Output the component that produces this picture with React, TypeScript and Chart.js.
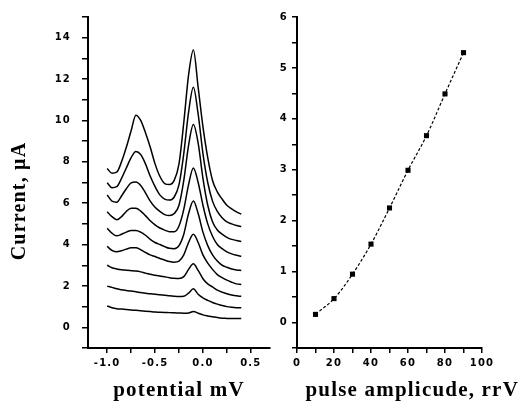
import React, { useEffect, useRef } from 'react';
import { Chart, registerables } from 'chart.js';

Chart.register(...registerables);

// ---- Left panel: voltammograms ----
const potentials = [
  -1.0, -0.95, -0.9, -0.85, -0.8, -0.75, -0.7, -0.65, -0.6, -0.55, -0.5, -0.45, -0.4, -0.35, -0.3,
  -0.25, -0.2, -0.15, -0.1, -0.05, 0.0, 0.05, 0.1, 0.15, 0.2, 0.25, 0.3, 0.35, 0.4,
];

const curve10mV = [1.03, 0.95, 0.9, 0.88, 0.86, 0.84, 0.82, 0.8, 0.78, 0.76, 0.74, 0.73, 0.72, 0.71, 0.7, 0.69, 0.68, 0.69, 0.77, 0.68, 0.6, 0.55, 0.51, 0.47, 0.44, 0.43, 0.42, 0.42, 0.42];
const curve20mV = [1.99, 1.93, 1.86, 1.82, 1.78, 1.75, 1.72, 1.68, 1.65, 1.62, 1.6, 1.57, 1.55, 1.52, 1.5, 1.49, 1.5, 1.65, 1.86, 1.6, 1.42, 1.3, 1.2, 1.12, 1.05, 1.0, 0.97, 0.95, 0.94];
const curve30mV = [3.0, 2.88, 2.82, 2.78, 2.76, 2.74, 2.72, 2.68, 2.62, 2.56, 2.52, 2.48, 2.44, 2.4, 2.37, 2.36, 2.45, 2.8, 3.07, 2.75, 2.35, 2.1, 1.95, 1.8, 1.7, 1.62, 1.56, 1.52, 1.5];
const curve40mV = [3.91, 3.72, 3.65, 3.7, 3.78, 3.84, 3.84, 3.75, 3.62, 3.5, 3.42, 3.33, 3.25, 3.18, 3.15, 3.2, 3.5, 4.1, 4.5, 4.1, 3.5, 3.1, 2.8, 2.55, 2.4, 2.28, 2.18, 2.1, 2.07];
const curve50mV = [4.79, 4.55, 4.42, 4.5, 4.6, 4.68, 4.68, 4.6, 4.45, 4.25, 4.1, 4.0, 3.9, 3.82, 3.8, 3.95, 4.5, 5.5, 6.1, 5.5, 4.6, 3.95, 3.5, 3.2, 3.0, 2.9, 2.82, 2.77, 2.75];
const curve60mV = [5.59, 5.35, 5.2, 5.35, 5.6, 5.76, 5.76, 5.62, 5.4, 5.15, 4.95, 4.8, 4.7, 4.62, 4.62, 4.9, 5.7, 6.9, 7.7, 7.0, 5.9, 5.0, 4.4, 4.0, 3.8, 3.65, 3.55, 3.48, 3.43];
const curve70mV = [6.4, 6.1, 6.05, 6.35, 6.7, 6.98, 7.02, 6.85, 6.5, 6.1, 5.8, 5.6, 5.45, 5.4, 5.5, 5.9, 7.1, 8.8, 9.8, 8.9, 7.2, 5.9, 5.1, 4.7, 4.5, 4.35, 4.25, 4.2, 4.15];
const curve80mV = [6.99, 6.75, 6.8, 7.2, 7.7, 8.2, 8.5, 8.35, 7.9, 7.3, 6.8, 6.4, 6.2, 6.15, 6.3, 6.9, 8.4, 10.4, 11.6, 10.3, 8.4, 7.0, 6.1, 5.6, 5.3, 5.1, 5.0, 4.92, 4.87];
const curve90mV = [7.68, 7.45, 7.5, 8.0, 8.7, 9.5, 10.25, 10.0, 9.4, 8.7, 7.9, 7.3, 6.95, 6.9, 7.1, 7.9, 9.9, 12.2, 13.4, 11.6, 9.7, 8.2, 7.1, 6.55, 6.2, 5.9, 5.72, 5.58, 5.47];

const leftCurves = [curve10mV, curve20mV, curve30mV, curve40mV, curve50mV, curve60mV, curve70mV, curve80mV, curve90mV];
const leftYLabels = [0, 2, 4, 6, 8, 10, 12, 14];
const leftXLabels = [-1.0, -0.5, 0.0, 0.5];

// ---- Right panel: peak current vs pulse amplitude ----
const amplitudes = [10, 20, 30, 40, 50, 60, 70, 80, 90];
const currents = [0.16, 0.47, 0.95, 1.54, 2.25, 2.99, 3.67, 4.49, 5.3];
const rightYLabels = [0, 1, 2, 3, 4, 5, 6];
const rightXLabels = [0, 20, 40, 60, 80, 100];

const tickFont = { family: '"DejaVu Sans", sans-serif', size: 10, weight: 'bold' as const };
const serifTitle = (size: number) => ({
  family: '"Liberation Serif", "Times New Roman", serif',
  size,
  weight: 'bold' as const,
  lineHeight: '22px',
});

const spacingPlugin = {
  id: 'letterSpacing',
  beforeDraw(chart: any) {
    (chart.ctx as any).letterSpacing = '1.2px';
  },
};

const near = (v: number, list: number[]) => list.some((l) => Math.abs(l - v) < 1e-6);

const axisStyle = {
  grid: { display: true, drawOnChartArea: false, drawTicks: true, tickLength: 5, color: '#000', lineWidth: 1.5 },
  border: { display: true, color: '#000', width: 2 },
};

const dummy = (position: string, size: number) => ({
  type: 'linear' as const,
  position,
  display: true,
  grid: { display: false, drawTicks: false },
  border: { display: false },
  ticks: { display: false },
  afterFit: (s: any) => {
    if (position === 'top' || position === 'bottom') s.height = size;
    else s.width = size;
  },
});

export default function App() {
  const leftRef = useRef<HTMLCanvasElement | null>(null);
  const rightRef = useRef<HTMLCanvasElement | null>(null);

  useEffect(() => {
    const left = new Chart(leftRef.current as HTMLCanvasElement, {
      type: 'line',
      data: {
        datasets: leftCurves.map((c, i) => ({
          label: `curve ${i + 1}`,
          data: potentials.map((p, j) => ({ x: p, y: c[j] })),
          borderColor: '#000',
          borderWidth: 1.5,
          pointRadius: 0,
          fill: false,
          cubicInterpolationMode: 'monotone' as const,
          xAxisID: 'x',
          yAxisID: 'y',
        })),
      },
      options: {
        responsive: false,
        animation: false,
        layout: { padding: { left: 0, right: 6, top: 0, bottom: 0 } },
        plugins: {
          legend: { display: false },
          tooltip: { enabled: false },
          title: {
            display: true,
            text: 'Current, μA',
            position: 'left',
            color: '#000',
            font: serifTitle(20),
            padding: { top: 9, bottom: 0 },
          },
        },
        scales: {
          x: {
            type: 'linear',
            position: 'bottom',
            min: -1.2,
            max: 0.7,
            ...axisStyle,
            ticks: {
              stepSize: 0.25,
              includeBounds: false,
              autoSkip: false,
              maxRotation: 0,
              padding: 4,
              color: '#000',
              font: tickFont,
              callback: (v: any) => (near(Number(v), leftXLabels) ? Number(v).toFixed(1) : ''),
            },
            afterBuildTicks: (s: any) => {
              s.ticks = s.ticks.filter((t: any) => {
                const q = t.value / 0.25;
                return Math.abs(q - Math.round(q)) < 1e-6 && t.value >= -1.0 - 1e-6 && t.value <= 0.5 + 1e-6;
              });
            },
            title: {
              display: true,
              text: 'potential mV',
              color: '#000',
              font: serifTitle(21),
              padding: { top: 0, bottom: 0 },
            },
            afterFit: (s: any) => {
              s.height = 54;
            },
          },
          xT: dummy('top', 15),
          y: {
            type: 'linear',
            position: 'left',
            min: -1,
            max: 15,
            ...axisStyle,
            grid: { ...axisStyle.grid, tickLength: 6 },
            ticks: {
              stepSize: 1,
              autoSkip: false,
              padding: 11,
              color: '#000',
              font: tickFont,
              callback: (v: any) => (near(Number(v), leftYLabels) ? String(v) : ''),
            },
            afterFit: (s: any) => {
              s.width = 57;
            },
          },
        },
      },
      plugins: [spacingPlugin],
    } as any);

    const right = new Chart(rightRef.current as HTMLCanvasElement, {
      type: 'line',
      data: {
        datasets: [
          {
            label: 'peak current',
            data: amplitudes.map((a, i) => ({ x: a, y: currents[i] })),
            borderColor: '#000',
            borderWidth: 1.2,
            borderDash: [3, 2],
            tension: 0.35,
            pointStyle: 'rect',
            pointRadius: 3.6,
            pointBackgroundColor: '#000',
            pointBorderColor: '#000',
            pointBorderWidth: 0,
            fill: false,
            xAxisID: 'x',
            yAxisID: 'y',
          },
        ],
      },
      options: {
        responsive: false,
        animation: false,
        layout: { padding: 0 },
        plugins: {
          legend: { display: false },
          tooltip: { enabled: false },
          title: {
            display: true,
            text: 'pulse amplicude, rrV',
            position: 'bottom',
            align: 'end',
            color: '#000',
            font: serifTitle(21),
            padding: { top: 0, bottom: 0 },
          },
        },
        scales: {
          x: {
            type: 'linear',
            position: 'bottom',
            min: 0,
            max: 100,
            ...axisStyle,
            ticks: {
              stepSize: 10,
              autoSkip: false,
              maxRotation: 0,
              padding: 4,
              color: '#000',
              font: tickFont,
              callback: (v: any) => (near(Number(v), rightXLabels) ? String(v) : ''),
            },
            afterFit: (s: any) => {
              s.height = 32;
            },
          },
          xT: dummy('top', 17),
          y: {
            type: 'linear',
            position: 'left',
            min: -0.5,
            max: 6,
            ...axisStyle,
            ticks: {
              stepSize: 0.5,
              autoSkip: false,
              padding: 4,
              color: '#000',
              font: tickFont,
              callback: (v: any) => (near(Number(v), rightYLabels) ? String(v) : ''),
            },
            afterFit: (s: any) => {
              s.width = 21;
            },
          },
          yR: dummy('right', 37),
        },
      },
      plugins: [spacingPlugin],
    } as any);

    return () => {
      left.destroy();
      right.destroy();
    };
  }, []);

  return (
    <div style={{ position: 'absolute', left: 0, top: 0, width: 519, height: 402, background: '#fff', overflow: 'hidden' }}>
      <canvas ref={leftRef} width={276} height={402} style={{ position: 'absolute', left: 0, top: 0 }} />
      <canvas ref={rightRef} width={243} height={402} style={{ position: 'absolute', left: 276, top: 0 }} />
    </div>
  );
}
